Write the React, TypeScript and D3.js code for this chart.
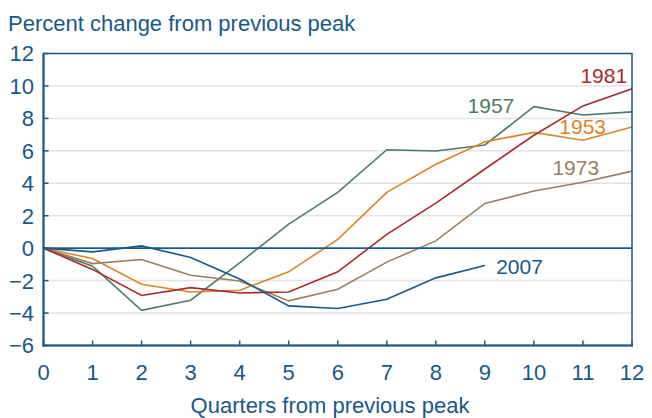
import React from "react";
import * as d3 from "d3";

const quarters = [0, 1, 2, 3, 4, 5, 6, 7, 8, 9, 10, 11, 12];
const yTicks = [-6, -4, -2, 0, 2, 4, 6, 8, 10, 12];

const s1953 = [0, -0.64, -2.22, -2.7, -2.59, -1.46, 0.54, 3.44, 5.17, 6.56, 7.14, 6.65, 7.47];
const s1957 = [0, -1.11, -3.83, -3.21, -0.9, 1.48, 3.44, 6.07, 5.99, 6.36, 8.72, 8.21, 8.4];
const s1973 = [0, -0.95, -0.7, -1.67, -2.02, -3.25, -2.53, -0.86, 0.45, 2.76, 3.52, 4.06, 4.75];
const s1981 = [0, -1.31, -2.92, -2.43, -2.76, -2.7, -1.46, 0.85, 2.78, 4.88, 6.96, 8.77, 9.83];
const s2007 = [0, -0.23, 0.14, -0.57, -1.9, -3.56, -3.72, -3.15, -1.83, -1.07];

const seriesNames = ["1957", "1953", "1973", "1981", "2007"];
const seriesValues = [s1957, s1953, s1973, s1981, s2007];
const seriesColors = ["#4f7b64", "#d9852c", "#9b7d62", "#a52a2c", "#1a5888"];
// label anchor positions in data units: [quarter, value, anchor]
const labelPos: [number, number, string][] = [
  [9.6, 8.33, "end"],
  [11.47, 7.04, "end"],
  [11.33, 4.51, "end"],
  [11.9, 10.2, "end"],
  [9.23, -1.59, "start"],
];

const BLUE = "#1a5888";
const FONT = "'Liberation Sans', Arial, sans-serif";

export default function App() {
  const W = 652, H = 418;
  const m = { left: 43.5, right: 632, top: 53.5, bottom: 345.5 };
  const x = d3.scaleLinear().domain([0, 12]).range([m.left, m.right]);
  const y = d3.scaleLinear().domain([-6, 12]).range([m.bottom, m.top]);
  const line = d3
    .line<number>()
    .x((_, i) => x(quarters[i]))
    .y((d) => y(d));

  return (
    <svg width={W} height={H} style={{ position: "absolute", left: 0, top: 0, background: "#fff" }}>
      <text x={8} y={31} fontFamily={FONT} fontSize={22} fill={BLUE}>
        Percent change from previous peak
      </text>
      {yTicks.filter((t) => t !== 0 && t !== 12 && t !== -6).map((t) => (
        <line key={"g" + t} x1={m.left} x2={m.right} y1={y(t)} y2={y(t)} stroke="#e3e3e3" strokeWidth={1.5} />
      ))}
      {yTicks.map((t) => (
        <g key={"yt" + t}>
          <line x1={m.left} x2={m.left + 5} y1={y(t)} y2={y(t)} stroke={BLUE} strokeWidth={1.5} />
          <text x={34} y={y(t)} dy="0.36em" textAnchor="end" fontFamily={FONT} fontSize={22} fill={BLUE}>
            {t < 0 ? "\u2212" + Math.abs(t) : t}
          </text>
        </g>
      ))}
      {quarters.map((q) => (
        <g key={"xt" + q}>
          <line x1={x(q)} x2={x(q)} y1={m.bottom} y2={m.bottom - 5} stroke={BLUE} strokeWidth={1.5} />
          <text x={x(q)} y={380} textAnchor="middle" fontFamily={FONT} fontSize={22} fill={BLUE}>
            {q}
          </text>
        </g>
      ))}
      <text x={330} y={413} textAnchor="middle" fontFamily={FONT} fontSize={22} fill={BLUE}>
        Quarters from previous peak
      </text>
      {seriesValues.map((vals, i) => (
        <path key={"s" + i} d={line(vals) || ""} fill="none" stroke={seriesColors[i]} strokeWidth={1.6} />
      ))}
      <line x1={m.left} x2={m.right} y1={y(0)} y2={y(0)} stroke={BLUE} strokeWidth={1.8} />
      <rect x={m.left} y={m.top} width={m.right - m.left} height={m.bottom - m.top} fill="none" stroke={BLUE} strokeWidth={1.5} />
      <line x1={m.left} x2={m.left} y1={m.top} y2={m.bottom + 1} stroke={BLUE} strokeWidth={2} />
      <line x1={m.left - 1} x2={m.right + 1} y1={m.bottom} y2={m.bottom} stroke={BLUE} strokeWidth={2} />
      {seriesNames.map((n, i) => (
        <text
          key={"l" + n}
          x={x(labelPos[i][0])}
          y={y(labelPos[i][1])}
          textAnchor={labelPos[i][2] as any}
          fontFamily={FONT}
          fontSize={21}
          fill={seriesColors[i]}
        >
          {n}
        </text>
      ))}
    </svg>
  );
}
